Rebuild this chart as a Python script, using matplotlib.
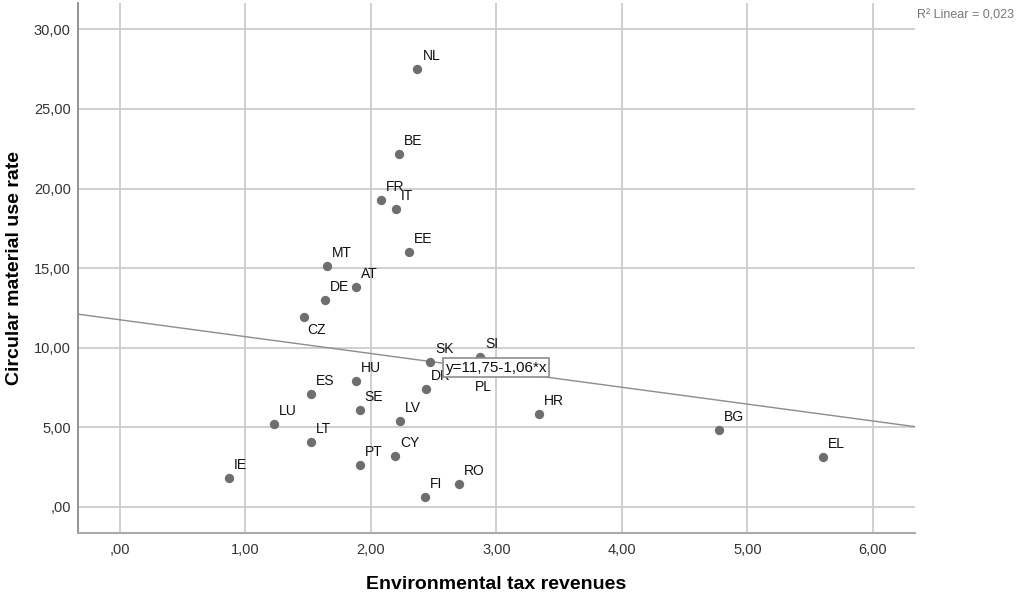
import numpy as np
import matplotlib.pyplot as plt
from matplotlib.ticker import FuncFormatter

plt.rcParams['font.family'] = ['Liberation Sans', 'DejaVu Sans']

countries = ['NL', 'BE', 'FR', 'IT', 'EE', 'MT', 'AT', 'DE', 'CZ', 'SK', 'SI', 'DK', 'PL',
             'HU', 'ES', 'SE', 'LV', 'HR', 'LU', 'LT', 'BG', 'EL', 'CY', 'PT', 'IE', 'RO', 'FI']
env_tax = [2.37, 2.22, 2.08, 2.20, 2.30, 1.65, 1.88, 1.63, 1.47, 2.47, 2.87, 2.44, 2.80,
           1.88, 1.52, 1.91, 2.23, 3.34, 1.23, 1.52, 4.77, 5.60, 2.19, 1.91, 0.87, 2.70, 2.43]
circ_rate = [27.5, 22.2, 19.3, 18.7, 16.0, 15.1, 13.8, 13.0, 11.9, 9.1, 9.4, 7.4, 8.6,
             7.9, 7.1, 6.1, 5.4, 5.8, 5.2, 4.1, 4.8, 3.1, 3.2, 2.6, 1.8, 1.4, 0.6]
# labels SPSS put under the point, with their pixel offsets
below = {'CZ': (3, -13), 'PL': (4, -17)}

intercept = 11.75
slope = -1.06
r2 = 0.023

x_ticks = [0, 1, 2, 3, 4, 5, 6]
y_ticks = [0, 5, 10, 15, 20, 25, 30]


def comma_fmt(v, pos=None):
    s = f'{v:.2f}'.replace('.', ',')
    if s.startswith('0,'):
        s = s[1:]
    return s


fig = plt.figure(figsize=(10.18, 5.92), dpi=100)
ax = fig.add_axes([0.0763, 0.0991, 0.8225, 0.8953])

ax.set_xlim(-0.337, 6.335)
ax.set_ylim(-1.67, 31.64)
ax.set_xticks(x_ticks)
ax.set_yticks(y_ticks)
ax.xaxis.set_major_formatter(FuncFormatter(comma_fmt))
ax.yaxis.set_major_formatter(FuncFormatter(comma_fmt))
ax.grid(True, color='#cccccc', linewidth=1.3)
ax.set_axisbelow(True)

for s in ['top', 'right']:
    ax.spines[s].set_visible(False)
ax.spines['left'].set_color('#8a8a8a')
ax.spines['bottom'].set_color('#aaaaaa')
ax.spines['left'].set_linewidth(1.3)
ax.spines['bottom'].set_linewidth(1.5)
ax.tick_params(length=0, labelsize=10.5, labelcolor='#333333')
ax.tick_params(axis='x', pad=7)
ax.tick_params(axis='y', pad=5)

ax.axline((0, intercept), slope=slope, color='#8c8c8c', linewidth=1.0, zorder=2)

ax.scatter(env_tax, circ_rate, s=45, color='#6e6e6e', zorder=3, linewidths=0)

for c, xv, yv in zip(countries, env_tax, circ_rate):
    off = below.get(c, (5, 13))
    ax.annotate(c, (xv, yv), xytext=off, textcoords='offset pixels',
                ha='left', va='center', fontsize=10, color='#111111', zorder=4)

eq = 'y=' + comma_fmt(intercept) + '-' + comma_fmt(-slope) + '*x'
ax.text(3.0, 8.75, eq, ha='center', va='center', fontsize=11, color='#111111', zorder=5,
        bbox=dict(boxstyle='square,pad=0.15', facecolor='white', edgecolor='#8c8c8c', linewidth=1.2))

ax.set_xlabel('Environmental tax revenues', fontsize=14, fontweight='bold')
ax.xaxis.set_label_coords(0.5, -0.081)
ax.set_ylabel('Circular material use rate', fontsize=14, fontweight='bold', labelpad=8)

fig.text(917 / 1018, 1 - 16 / 592, 'R² Linear = ' + f'{r2:.3f}'.replace('.', ','),
         ha='left', va='center', fontsize=9, color='#777777')

fig.savefig('out.png', dpi=100)
